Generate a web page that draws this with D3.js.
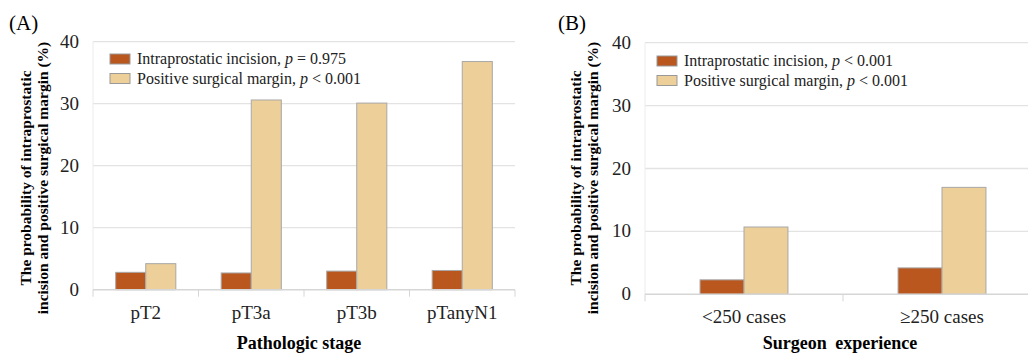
<!DOCTYPE html>
<html>
<head>
<meta charset="utf-8">
<script src="https://cdn.jsdelivr.net/npm/d3@7"></script>
<style>
  body { margin: 0; background: #fff; }
  svg { display: block; font-family: "Liberation Serif", "Times New Roman", serif; }
</style>
</head>
<body>
<script>
// chart data
var stages = ["pT2", "pT3a", "pT3b", "pTanyN1"];
var incisionByStage = [2.8, 2.7, 3.0, 3.1];
var marginByStage = [4.2, 30.6, 30.1, 36.8];

var experience = ["<250 cases", "\u2265250 cases"];
var incisionByExp = [2.3, 4.2];
var marginByExp = [10.7, 17.0];

var seriesNames = ["Intraprostatic incision", "Positive surgical margin"];
var pLabelsA = ["= 0.975", "< 0.001"];
var pLabelsB = ["< 0.001", "< 0.001"];
var yTicks = [0, 10, 20, 30, 40];
var colors = ["#b9571e", "#edcf99"];

var w = 1028, h = 353;
var svg = d3.select("body").append("svg")
  .attr("width", w)
  .attr("height", h);

function panel(opt) {
  var g = svg.append("g");

  var x = d3.scaleBand()
    .domain(opt.cats)
    .range([opt.left, opt.right])
    .paddingInner(opt.pad)
    .paddingOuter(opt.pad / 2);
  var xs = d3.scaleBand()
    .domain([0, 1])
    .range([0, x.bandwidth()]);
  var y = d3.scaleLinear()
    .domain([0, 40])
    .range([opt.bottom, opt.top]);

  // gridlines
  g.selectAll(".grid").data(yTicks.slice(1)).enter()
    .append("line")
    .attr("x1", opt.left).attr("x2", opt.gridEnd)
    .attr("y1", function(d){ return y(d); })
    .attr("y2", function(d){ return y(d); })
    .style("stroke", "#e3e3e3")
    .style("stroke-width", 1.3);

  // faint left axis line
  g.append("line")
    .attr("x1", opt.left).attr("x2", opt.left)
    .attr("y1", y(40)).attr("y2", y(0))
    .style("stroke", "#ececec");

  // y tick labels
  g.selectAll(".ytl").data(yTicks).enter()
    .append("text")
    .attr("x", opt.left - 14)
    .attr("y", function(d){ return y(d) + 6; })
    .attr("text-anchor", "end")
    .style("font-size", "19px")
    .style("fill", "#222")
    .text(function(d){ return d; });

  // bars
  var rows = opt.cats.map(function(c, i){ return { cat: c, vals: [opt.s1[i], opt.s2[i]] }; });
  var grp = g.selectAll(".grp").data(rows).enter()
    .append("g")
    .attr("transform", function(d){ return "translate(" + x(d.cat) + ",0)"; });
  grp.selectAll("rect").data(function(d){ return d.vals; }).enter()
    .append("rect")
    .attr("x", function(d, i){ return xs(i); })
    .attr("y", function(d){ return y(d); })
    .attr("width", xs.bandwidth())
    .attr("height", function(d){ return y(0) - y(d); })
    .style("fill", function(d, i){ return colors[i]; })
    .style("stroke", "#a8a8a8")
    .style("stroke-width", 1);

  // x axis line and ticks at category boundaries
  g.append("line")
    .attr("x1", opt.left).attr("x2", opt.gridEnd)
    .attr("y1", y(0)).attr("y2", y(0))
    .style("stroke", "#d6d6d6")
    .style("stroke-width", 1.5);
  var bounds = opt.cats.map(function(c){ return x(c) - x.step() * opt.pad / 2; });
  bounds.push(opt.right);
  g.selectAll(".xtick").data(bounds).enter()
    .append("line")
    .attr("x1", function(d){ return d; }).attr("x2", function(d){ return d; })
    .attr("y1", y(0)).attr("y2", y(0) + 7)
    .style("stroke", "#d6d6d6");

  // category labels
  g.selectAll(".xtl").data(opt.cats).enter()
    .append("text")
    .attr("x", function(d){ return x(d) + x.bandwidth() / 2; })
    .attr("y", y(0) + 29)
    .attr("text-anchor", "middle")
    .style("font-size", "19px")
    .style("fill", "#222")
    .text(function(d){ return d; });

  // x axis title
  g.append("text")
    .attr("x", opt.titleX)
    .attr("y", 349)
    .attr("text-anchor", "middle")
    .style("font-size", "18px")
    .style("font-weight", "bold")
    .style("word-spacing", opt.wordSpacing || "0px")
    .text(opt.title);

  // y axis title, two lines
  var yt = g.append("text")
    .attr("transform", "translate(" + opt.ytX + "," + opt.ytY + ") rotate(-90)")
    .attr("text-anchor", "middle")
    .style("font-size", "15.5px")
    .style("font-weight", "bold");
  yt.append("tspan").attr("x", 0).attr("y", 0).text("The probability of intraprostatic");
  yt.append("tspan").attr("x", 0).attr("y", 17).text("incision and positive surgical margin (%)");

  // panel letter
  g.append("text")
    .attr("x", opt.letterX)
    .attr("y", 30)
    .style("font-size", "21px")
    .text(opt.letter);

  // legend
  var lg = g.selectAll(".leg").data(seriesNames).enter()
    .append("g")
    .attr("transform", function(d, i){ return "translate(" + opt.legX + "," + (opt.legY + i * 19.5) + ")"; });
  lg.append("rect")
    .attr("x", 0).attr("y", -5)
    .attr("width", 20).attr("height", 10)
    .style("fill", function(d, i){ return colors[i]; })
    .style("stroke", "#999");
  var lt = lg.append("text")
    .attr("x", 27).attr("y", 5)
    .style("font-size", "16px")
    .style("fill", "#222");
  lt.append("tspan").text(function(d){ return d + ", "; });
  lt.append("tspan").style("font-style", "italic").text("p");
  lt.append("tspan").text(function(d, i){ return " " + opt.pLabels[i]; });
}

panel({
  cats: stages, s1: incisionByStage, s2: marginByStage,
  left: 93, right: 515, gridEnd: 515, top: 41.7, bottom: 289.7, pad: 0.43,
  title: "Pathologic stage", titleX: 299,
  ytX: 31, ytY: 178, letter: "(A)", letterX: 9,
  legX: 110, legY: 59, pLabels: pLabelsA
});

panel({
  cats: experience, s1: incisionByExp, s2: marginByExp,
  left: 645, right: 1041, gridEnd: 1041, top: 42.7, bottom: 294.3, pad: 0.556,
  title: "Surgeon experience", titleX: 840, wordSpacing: "4px",
  ytX: 581, ytY: 178, letter: "(B)", letterX: 558,
  legX: 657, legY: 61, pLabels: pLabelsB
});
</script>
</body>
</html>
